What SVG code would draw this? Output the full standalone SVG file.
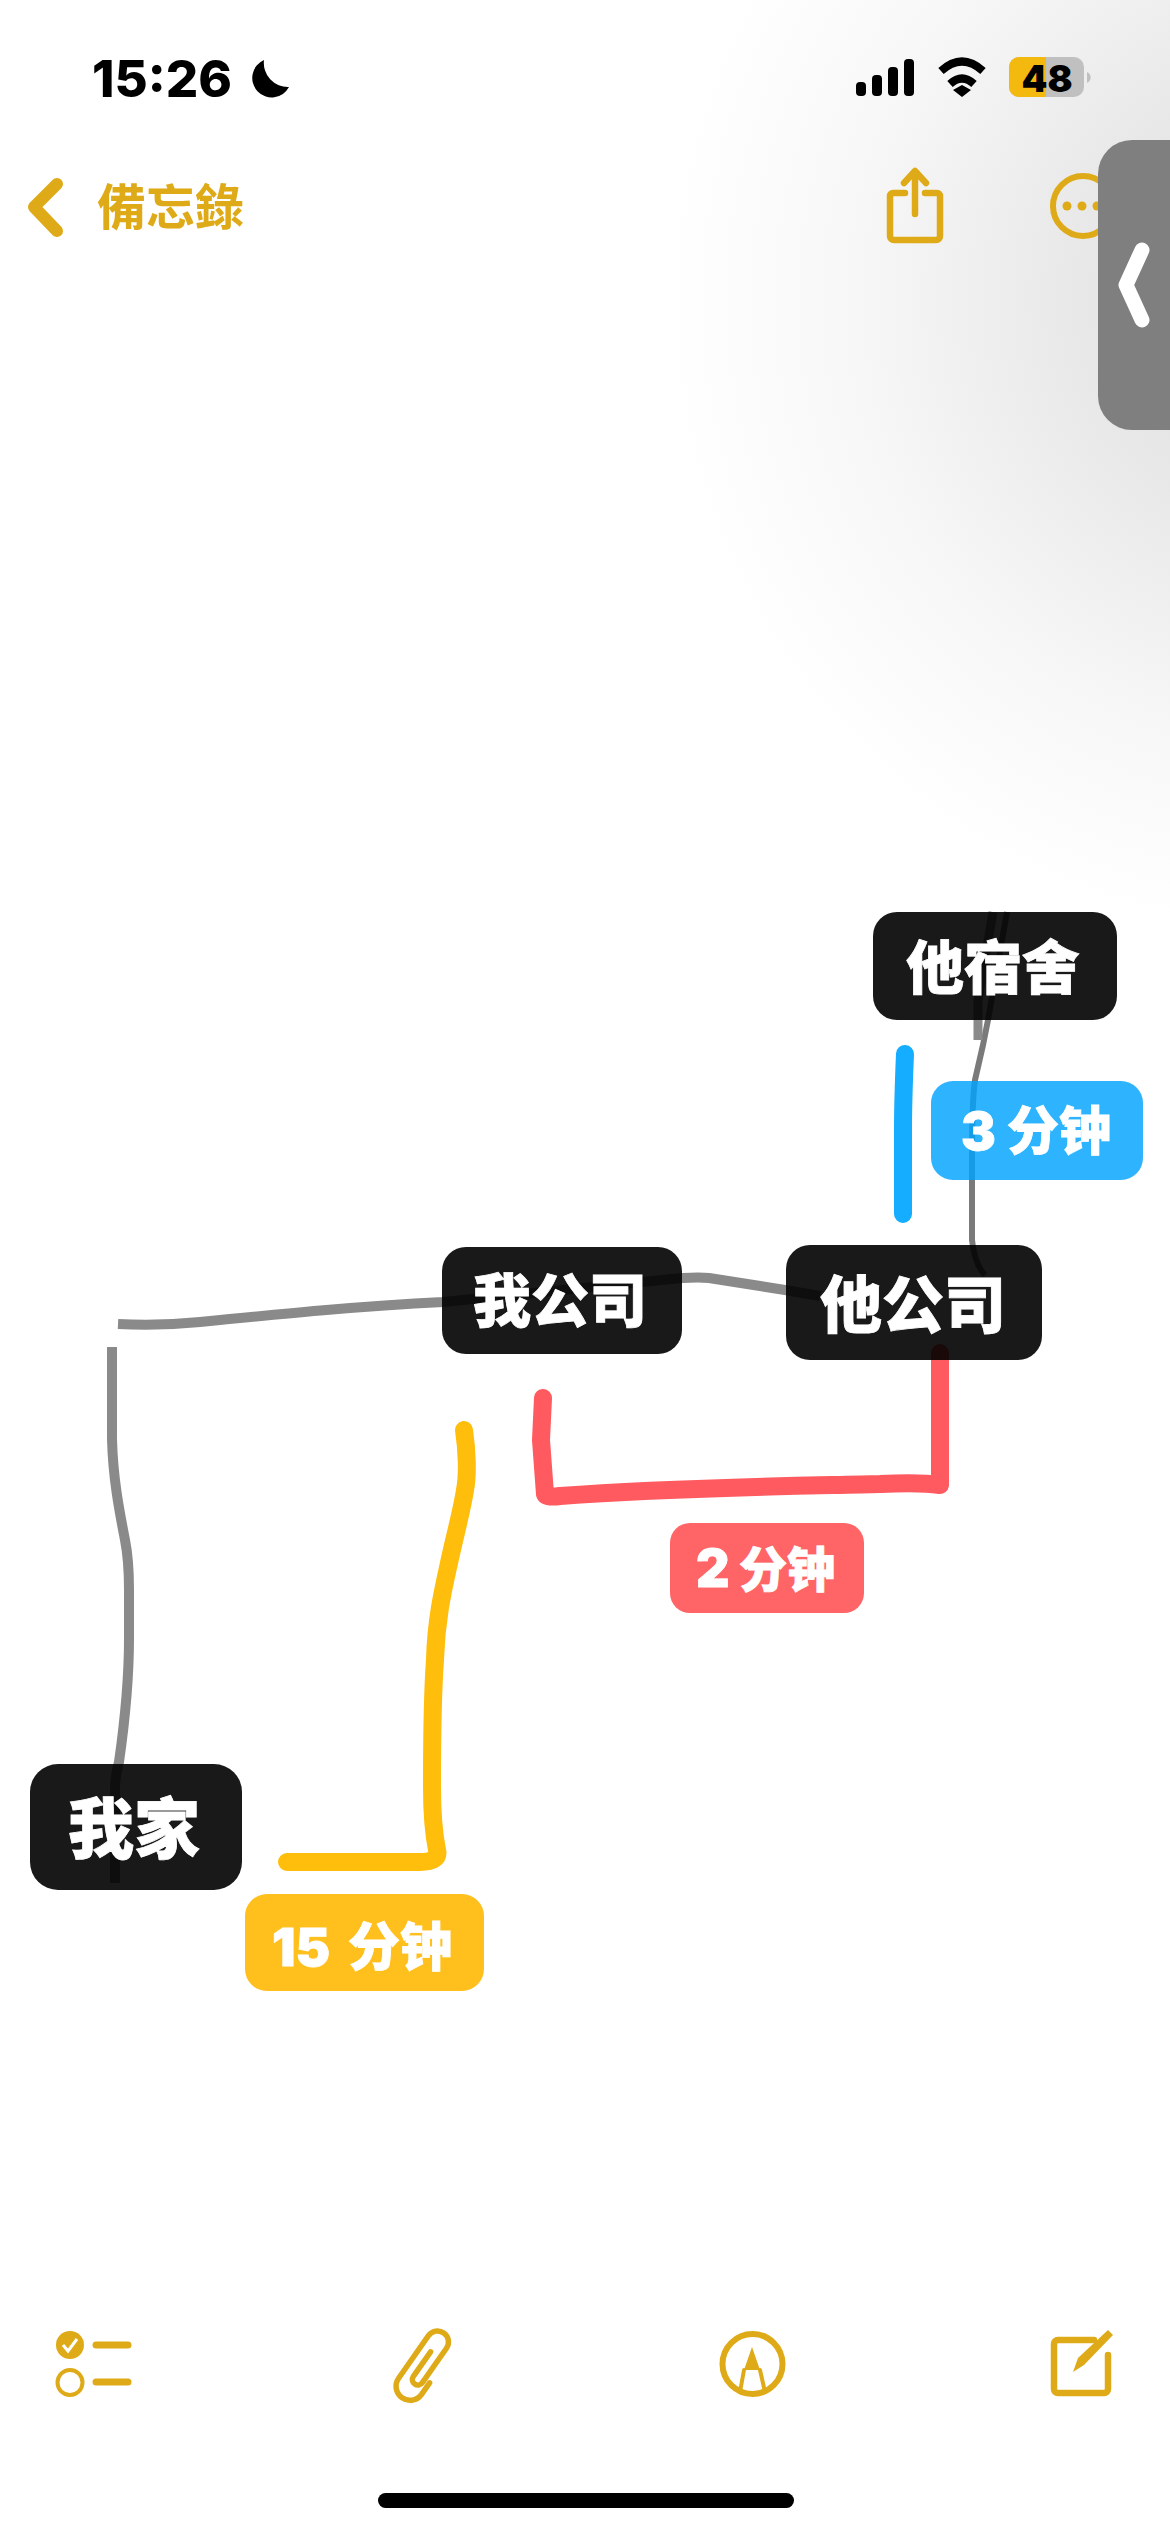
<svg xmlns="http://www.w3.org/2000/svg" width="1170" height="2532" viewBox="0 0 1170 2532">
<defs>
<radialGradient id="vig" gradientUnits="userSpaceOnUse" cx="1300" cy="300" r="640"><stop offset="0" stop-color="#dcdcdc"/><stop offset="0.35" stop-color="#e8e8e8"/><stop offset="0.7" stop-color="#f7f7f7"/><stop offset="1" stop-color="#ffffff"/></radialGradient>
</defs>
<style>
.node rect{fill:#000;fill-opacity:.9}
.node text,.tag text{fill:#fff;stroke:#fff;stroke-width:.8;font-family:"Noto Sans CJK SC",sans-serif;font-weight:900}
.node text{text-anchor:middle}
.tag text{font-size:52px}
.tag .d{font-family:Inter,"Noto Sans",sans-serif;font-weight:900;font-size:52px}
.s{fill:none;stroke-linejoin:round}
.r{stroke-linecap:round}
.gray{stroke:#8a8a8a;stroke-width:10}
.col{stroke-width:18}
.ui{fill:none;stroke:#dfaa17;stroke-linecap:round;stroke-linejoin:round}
.uf{fill:#dfaa17}
</style>
<rect width="1170" height="2532" fill="#fff"/>
<rect width="1170" height="1000" fill="url(#vig)"/>
<g id="faint" font-family="Noto Sans CJK TC,sans-serif" fill="#000" fill-opacity=".02">
<text x="282" y="190" font-size="45">建議的大標題：新備忘錄</text>
<text x="586" y="262" font-size="42" text-anchor="middle">2025 年 10 月 28 日 15:26</text>
</g>
<g id="status">
<text x="92" y="97" font-family="Inter,'Liberation Sans',sans-serif" font-weight="800" font-size="51" fill="#000">15:26</text>
<path d="M264 60A19.500 19.500 0 1 0 289 87A24 24 0 0 1 264 60z" fill="#000"/>
<g fill="#000"><rect x="856" y="82" width="10" height="14" rx="4"/><rect x="872" y="75" width="10" height="21" rx="4"/><rect x="888" y="67" width="10" height="29" rx="4"/><rect x="904" y="59" width="10" height="37" rx="4"/></g>
<path d="M941 71Q962 52 983 71M950 84Q962 73 974 84" fill="none" stroke="#000" stroke-width="8"/>
<path d="M953 90L962 85L971 90L962 97z" fill="#000"/>
<rect x="1009" y="57" width="75" height="40" rx="10" fill="#c0c0c0"/>
<path d="M1019 57h27v40h-27a10 10 0 0 1-10-10v-20a10 10 0 0 1 10-10z" fill="#f4b90e"/>
<path d="M1087 72a6 6 0 0 1 0 11z" fill="#c0c0c0"/>
<text x="1047" y="92" font-family="Inter,sans-serif" font-weight="900" font-size="37" text-anchor="middle" fill="#000">48</text>
</g>
<g id="nav">
<path class="ui" d="M57 184L34 207L57 231" stroke-width="12"/>
<text x="97" y="225" font-size="49" font-weight="700" fill="#dfaa17" font-family="Noto Sans CJK TC,sans-serif">備忘錄</text>
<path class="ui" d="M915 172v42M904 183l11-12 11 12M905 193h-12a3 3 0 0 0-3 3v40a4 4 0 0 0 4 4h42a4 4 0 0 0 4-4v-40a3 3 0 0 0-3-3h-12" stroke-width="6.500"/>
<circle cx="1083" cy="206" r="30" class="ui" stroke-width="6"/>
<g class="uf"><circle cx="1067" cy="206" r="4.500"/><circle cx="1082" cy="206" r="4.500"/><circle cx="1097" cy="206" r="4.500"/></g>
<rect x="1098" y="140" width="112" height="290" rx="34" fill="#7f7f7f"/>
<path d="M1142 250L1126 285L1142 320" fill="none" stroke="#fff" stroke-width="15" stroke-linecap="round" stroke-linejoin="round"/>
</g>
<g id="connectors">
<path class="s gray" d="M118 1324Q160 1326 200 1322C280 1314 360 1306 443 1302L682 1278Q700 1277 709 1278L785 1290L820 1296"/>
<path class="s gray" d="M112 1347V1439C113 1480 120 1514 125 1540Q129 1560 129 1590V1638C129 1680 125 1720 119 1762Q115 1775 115 1790V1883"/>
<path class="s" stroke="#7a7a7a" stroke-width="6" d="M1007 912L988 1020L983 1045L975 1080Q972 1100 972 1160V1240Q975 1265 985 1275"/>
<path class="s" stroke="#8a8a8a" stroke-width="9" d="M993 912L978 1000V1040"/>
<path class="s col r" stroke="#ff5a5f" d="M543 1398L541 1440L545 1494Q546 1498 560 1496C680 1487 800 1486 880 1484Q920 1482 940 1485V1353"/>
<path class="s col r" stroke="#14adff" d="M905 1054Q903 1100 903 1130V1214"/>
<path class="s col r" stroke="#ffbe0b" d="M464 1430C467 1450 468 1475 465 1490C462 1510 455 1535 449 1563C443 1590 436 1620 435 1660C432 1700 432 1740 432 1787C432 1810 433 1830 437 1850Q440 1862 420 1862H287"/>
</g>
<g id="n-home" class="node"><rect x="30" y="1764" width="212" height="126" rx="28"/><text x="134" y="1853" font-size="66">我家</text></g>
<g id="n-co" class="node"><rect x="442" y="1247" width="240" height="107" rx="24"/><text x="560" y="1322" font-size="58">我公司</text></g>
<g id="n-hco" class="node"><rect x="786" y="1245" width="256" height="115" rx="24"/><text x="913" y="1328" font-size="62">他公司</text></g>
<g id="n-dorm" class="node"><rect x="873" y="912" width="244" height="108" rx="24"/><text x="993" y="989" font-size="58">他宿舍</text></g>
<g id="t-15" class="tag"><rect x="245" y="1894" width="239" height="97" rx="22" fill="#ffc01e"/><text y="1966"><tspan x="272" class="d">15</tspan><tspan x="348">分钟</tspan></text></g>
<g id="t-2" class="tag"><rect x="670" y="1523" width="194" height="90" rx="20" fill="#ff6467"/><text y="1587"><tspan x="696" class="d">2</tspan><tspan x="739" style="font-size:48px">分钟</tspan></text></g>
<g id="t-3" class="tag"><rect x="931" y="1081" width="212" height="99" rx="22" fill="#00a2ff" fill-opacity=".82"/><text y="1150"><tspan x="961" class="d">3</tspan><tspan x="1007">分钟</tspan></text></g>
<g id="toolbar">
<circle cx="70" cy="2345" r="14" class="uf"/><path d="M63 2345l5 6 9-12" fill="none" stroke="#fff" stroke-width="3"/>
<circle cx="70" cy="2382.500" r="12.500" class="ui" stroke-width="4"/>
<path class="ui" d="M96 2345h32M96 2382h32" stroke-width="7"/>
<path class="ui" stroke-width="5.500" transform="translate(425 2365) rotate(35)" d="M14 12V26A14 14 0 0 1-14 26V-26A11 11 0 0 1 8-26V16A5.500 5.500 0 0 1-3 16V-14"/>
<circle cx="752.500" cy="2364" r="30" class="ui" stroke-width="6"/>
<path class="uf" d="M752 2347L760 2370H744z"/><path class="ui" d="M744 2370L740 2392M760 2370L765 2392" stroke-width="4"/>
<path class="ui" d="M1094 2340h-36a4 4 0 0 0-4 4v45a4 4 0 0 0 4 4h46a4 4 0 0 0 4-4v-34" stroke-width="6.500"/>
<path class="uf" d="M1073 2372L1078 2358L1108 2330L1113 2335L1084 2365z"/>
<rect x="378" y="2493" width="416" height="15" rx="7.500" fill="#000"/>
</g>
</svg>
